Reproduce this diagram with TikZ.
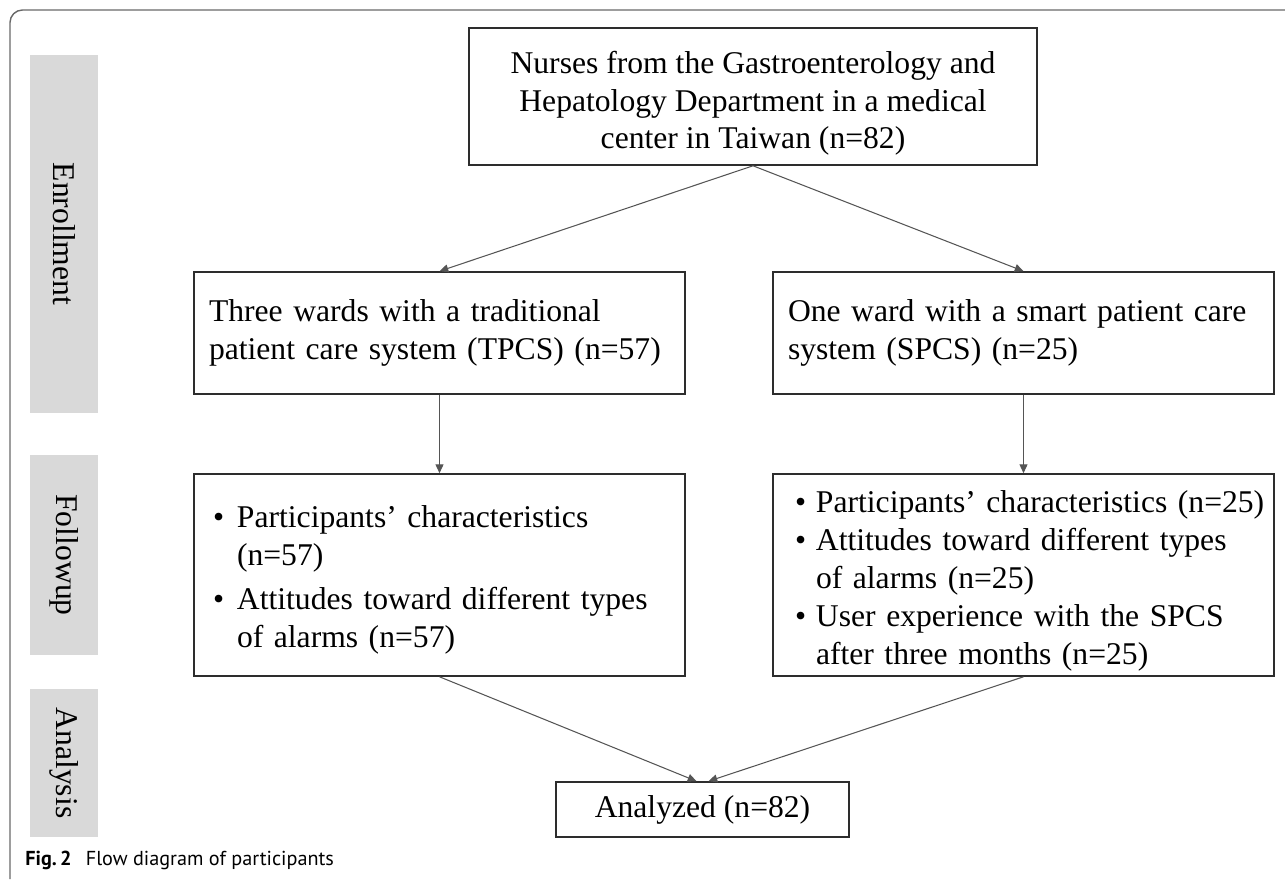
\documentclass[tikz,border=0pt]{standalone}
\usepackage{fontspec}
\setmainfont{Liberation Serif}
\newfontfamily\capfont{PT Sans}
\usetikzlibrary{arrows.meta,positioning}
\definecolor{stagegray}{RGB}{217,217,217}
\definecolor{linegray}{RGB}{85,85,85}
\definecolor{boxline}{RGB}{45,45,45}
\definecolor{framegray}{RGB}{105,105,105}
\newcommand{\boxfont}{\fontsize{18}{21.5}\selectfont}
% lower a block of text without changing its size
\newcommand{\droptext}[2]{\raisebox{-#1}[\height][\depth]{#2}}

\begin{document}
\begin{tikzpicture}[
    box/.style={draw=boxline, line width=0.9pt, font=\boxfont, inner sep=0pt},
    stage/.style={fill=stagegray, minimum width=1.36cm, font=\boxfont, text=black!92},
    arr/.style={-{Triangle[length=5pt,width=4.5pt]}, draw=linegray, line width=0.6pt}
]
    % Canvas and frame
    \useasboundingbox (0,0) rectangle (25.7,-17.58);
    \draw[framegray, line width=0.8pt, rounded corners=0.25cm]
        (0.2,-17.58) -- (0.2,-0.2) -- (25.7,-0.2);

    % Stage bars
    \node[stage, minimum height=7.16cm] (enroll) at (1.28,-4.68) {};
    \node[stage, minimum height=4cm] (follow) at (1.28,-11.1) {};
    \node[stage, minimum height=2.96cm] (analys) at (1.28,-15.26) {};
    \node[rotate=-90, font=\boxfont] at (enroll) {Enrollment};
    \node[rotate=-90, font=\boxfont] at (follow) {Followup};
    \node[rotate=-90, font=\boxfont] at (analys) {Analysis};

    % Enrollment
    \node[box, minimum width=11.36cm, minimum height=2.74cm] (nurses) at (15.06,-1.93)
        {\droptext{0.14cm}{\begin{tabular}{@{}c@{}}
        Nurses from the Gastroenterology and\\
        Hepatology Department in a medical\\
        center in Taiwan (n=82)
        \end{tabular}}};
    \node[box, minimum width=9.82cm, minimum height=2.44cm, text width=9.22cm, inner xsep=0.3cm, align=left] (tpcs) at (8.79,-6.66)
        {\begin{tabular}{@{}l@{}}
        Three wards with a traditional\\
        patient care system (TPCS) (n=57)
        \end{tabular}};
    \node[box, minimum width=10.02cm, minimum height=2.44cm, text width=9.42cm, inner xsep=0.3cm, align=left] (spcs) at (20.47,-6.66)
        {\begin{tabular}{@{}l@{}}
        One ward with a smart patient care\\
        system (SPCS) (n=25)
        \end{tabular}};

    % Followup
    \node[box, minimum width=9.82cm, minimum height=4.04cm, text width=9.06cm, inner xsep=0.38cm, align=left] (tfol) at (8.79,-11.5)
        {\droptext{0.1cm}{\begin{tabular}{@{}p{0.48cm}@{}l@{}}
        \textbullet & Participants' characteristics\\
         & (n=57)\\[0.12cm]
        \textbullet & Attitudes toward different types\\
         & of alarms (n=57)
        \end{tabular}}};
    \node[box, minimum width=10.02cm, minimum height=4.04cm, text width=9.14cm, inner xsep=0.44cm, align=left] (sfol) at (20.47,-11.5)
        {\droptext{0.12cm}{\begin{tabular}{@{}p{0.42cm}@{}l@{}}
        \textbullet & Participants' characteristics (n=25)\\
        \textbullet & Attitudes toward different types\\
         & of alarms (n=25)\\
        \textbullet & User experience with the SPCS\\
         & after three months (n=25)
        \end{tabular}}};

    % Analysis
    \node[box, minimum width=5.86cm, minimum height=1.1cm] (analyzed) at (14.05,-16.19) {Analyzed (n=82)};

    % Connectors
    \draw[arr] (nurses.south) -- (tpcs.north);
    \draw[arr] (nurses.south) -- (spcs.north);
    \draw[arr] (tpcs.south) -- (tfol.north);
    \draw[arr] (spcs.south) -- (sfol.north);
    \draw[arr] (tfol.south) -- ([xshift=-0.12cm]analyzed.north);
    \draw[arr] (sfol.south) -- ([xshift=0.12cm]analyzed.north);

    % Caption
    \node[anchor=base west, inner sep=0pt, font=\capfont\fontsize{11.5}{13}\selectfont] (caption) at (0.5,-17.3)
        {\textbf{Fig.\,2}\hspace{0.7em}Flow diagram of participants};
\end{tikzpicture}
\end{document}
